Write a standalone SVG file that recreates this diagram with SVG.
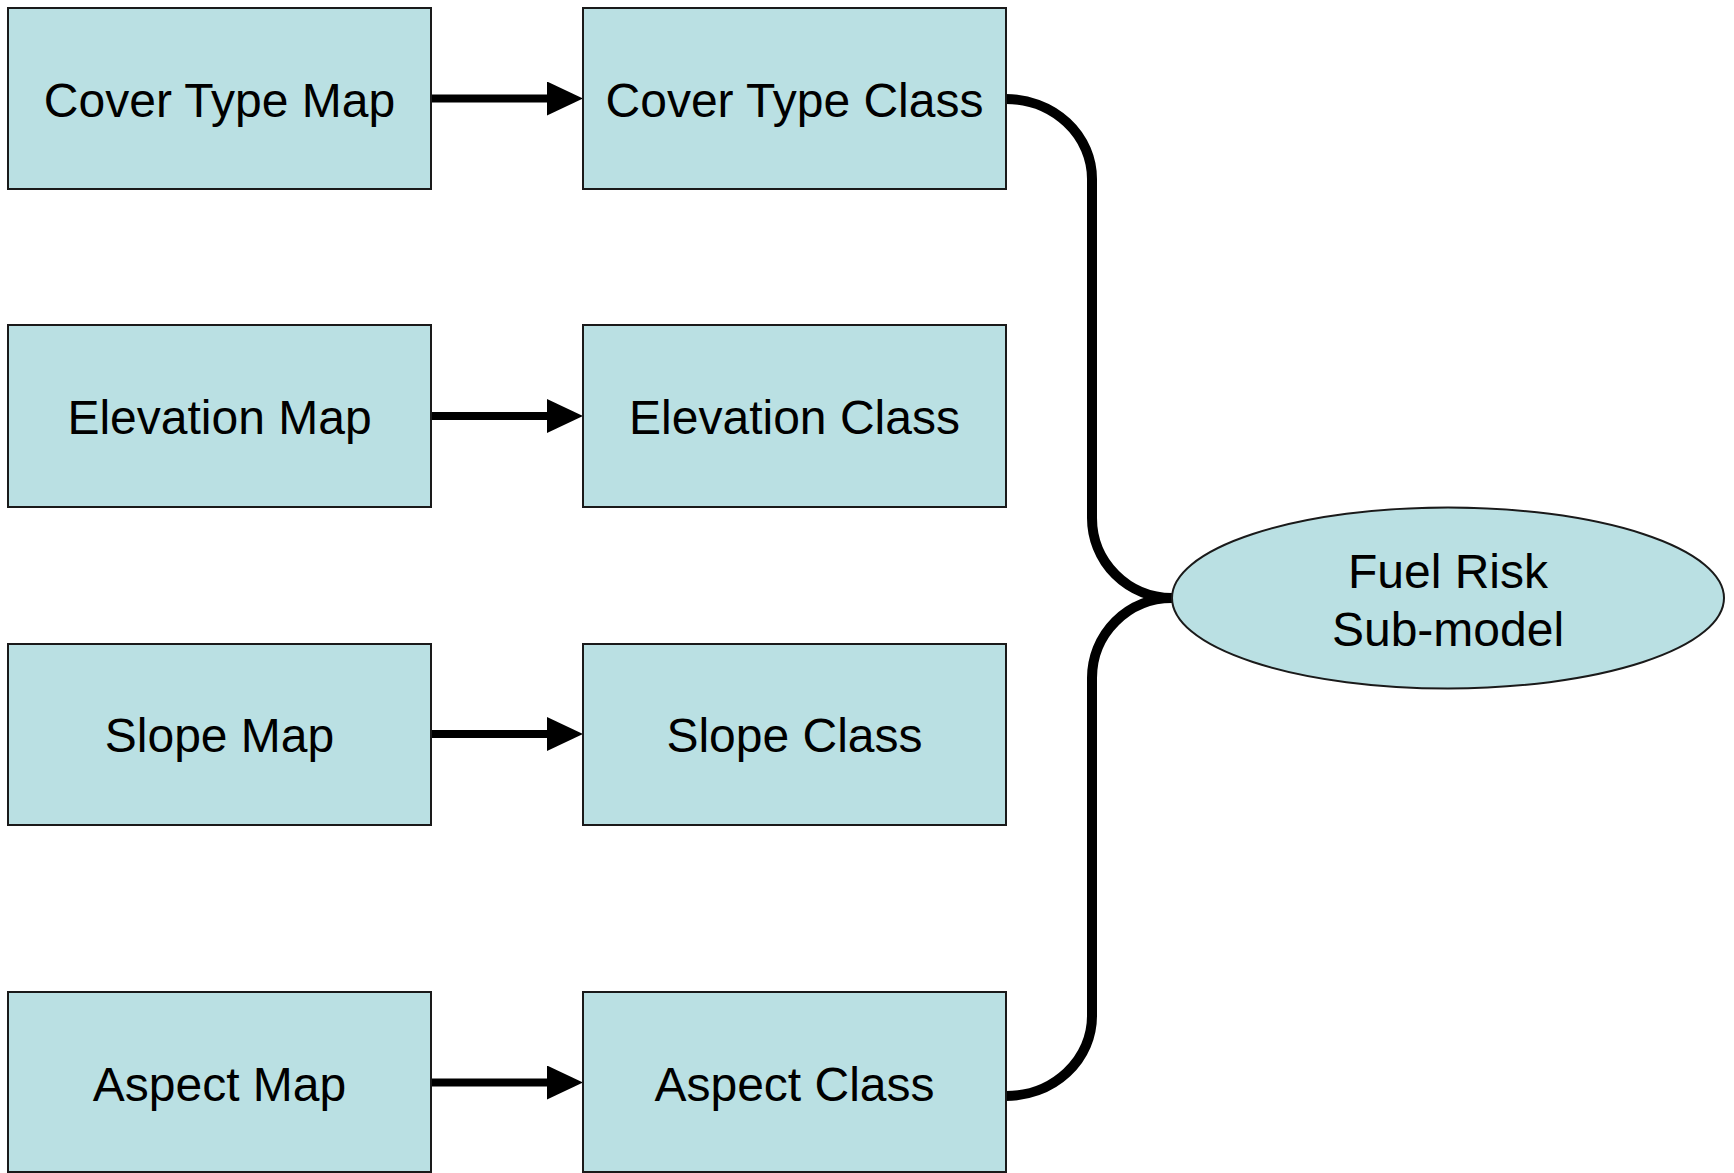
<svg xmlns="http://www.w3.org/2000/svg" width="1734" height="1173" viewBox="0 0 1734 1173">
<style>
.box{fill:#BAE0E3;stroke:#1a1a1a;stroke-width:2}
.lbl{font-family:"Liberation Sans",Arial,sans-serif;font-size:48px;fill:#000;text-anchor:middle}
.arr{stroke:#000;stroke-width:8;fill:none}
.con{stroke:#000;stroke-width:10;fill:none;stroke-linecap:round;stroke-linejoin:round}
</style>
<defs>
<marker id="ah" markerUnits="userSpaceOnUse" markerWidth="36" markerHeight="34" refX="3" refY="17" orient="auto">
<path d="M0,0 L36,17 L0,34 Z" fill="#000"/>
</marker>
</defs>
<rect width="1734" height="1173" fill="#fff"/>
<g id="connectors">
<line class="arr" x1="431" y1="98.5" x2="550" y2="98.5" marker-end="url(#ah)"/>
<line class="arr" x1="431" y1="416" x2="550" y2="416" marker-end="url(#ah)"/>
<line class="arr" x1="431" y1="734" x2="550" y2="734" marker-end="url(#ah)"/>
<line class="arr" x1="431" y1="1082.5" x2="550" y2="1082.5" marker-end="url(#ah)"/>
<path class="con" d="M1006,99 A86,80 0 0 1 1092,179 L1092,518 A80,80 0 0 0 1172,598"/>
<path class="con" d="M1172,598 A80,80 0 0 0 1092,678 L1092,1016 A86,80 0 0 1 1006,1096"/>
</g>
<g id="cover-type-map"><rect class="box" x="8" y="8" width="423" height="181"/><text class="lbl" x="219.5" y="117">Cover Type Map</text></g>
<g id="elevation-map"><rect class="box" x="8" y="325" width="423" height="182"/><text class="lbl" x="219.5" y="434">Elevation Map</text></g>
<g id="slope-map"><rect class="box" x="8" y="644" width="423" height="181"/><text class="lbl" x="219.5" y="752">Slope Map</text></g>
<g id="aspect-map"><rect class="box" x="8" y="992" width="423" height="180"/><text class="lbl" x="219.5" y="1101">Aspect Map</text></g>
<g id="cover-type-class"><rect class="box" x="583" y="8" width="423" height="181"/><text class="lbl" x="794.5" y="117">Cover Type Class</text></g>
<g id="elevation-class"><rect class="box" x="583" y="325" width="423" height="182"/><text class="lbl" x="794.5" y="434">Elevation Class</text></g>
<g id="slope-class"><rect class="box" x="583" y="644" width="423" height="181"/><text class="lbl" x="794.5" y="752">Slope Class</text></g>
<g id="aspect-class"><rect class="box" x="583" y="992" width="423" height="180"/><text class="lbl" x="794.5" y="1101">Aspect Class</text></g>
<g id="fuel-risk-submodel"><ellipse class="box" cx="1448" cy="598" rx="276" ry="90.5"/><text class="lbl" x="1448" y="588">Fuel Risk</text><text class="lbl" x="1448" y="646">Sub-model</text></g>
</svg>
